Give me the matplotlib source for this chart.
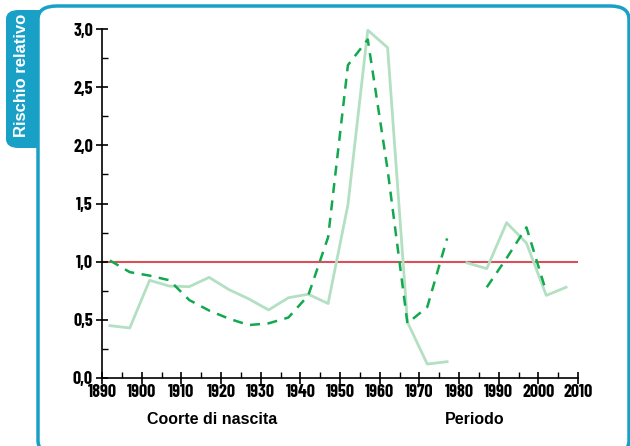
import numpy as np
import matplotlib.pyplot as plt
from matplotlib.patches import FancyBboxPatch
from matplotlib.ticker import MultipleLocator, FuncFormatter

# data
coorte_anni = [1892, 1897, 1902, 1907, 1912, 1917, 1922, 1927, 1932, 1937,
               1942, 1947, 1952, 1957, 1962, 1967, 1972, 1977]
coorte_rr = [0.45, 0.43, 0.84, 0.79, 0.785, 0.865, 0.76, 0.68, 0.585, 0.69,
             0.72, 0.64, 1.49, 2.99, 2.84, 0.48, 0.12, 0.14]
coorte_stima = [1.01, 0.91, 0.88, 0.84, 0.67, 0.58, 0.51, 0.455, 0.47, 0.52,
                0.71, 1.21, 2.69, 2.91, 1.79, 0.47, 0.61, 1.20]

periodo_anni = [1982, 1987, 1992, 1997, 2002, 2007]
periodo_rr = [0.99, 0.94, 1.335, 1.16, 0.71, 0.78]
periodo_stima_anni = [1987, 1992, 1997, 2002]
periodo_stima = [0.78, 1.03, 1.295, 0.74]

riferimento = 1.0

teal = '#18a0c6'
light_green = '#b3e0c2'
dark_green = '#12a84e'
red = '#d9505a'

tick_font = ['Barlow Condensed', 'DejaVu Sans']
label_font = ['Liberation Sans', 'DejaVu Sans']

fig = plt.figure(figsize=(6.3, 4.46), dpi=100)

# frame and tab
tab = FancyBboxPatch((6 / 630, 1 - 148 / 446), 44 / 630, 138 / 446,
                     boxstyle='round,pad=0,rounding_size=0.02',
                     transform=fig.transFigure, facecolor=teal, edgecolor='none',
                     zorder=-2)
fig.patches.append(tab)
frame = FancyBboxPatch((38 / 630, 1 - 454 / 446), 591 / 630, 448 / 446,
                       boxstyle='round,pad=0,rounding_size=0.03',
                       transform=fig.transFigure, facecolor='white',
                       edgecolor=teal, linewidth=2.5, zorder=-1)
fig.patches.append(frame)
fig.text(22 / 630, 1 - 75 / 446, 'Rischio relativo', rotation=90, color='white',
         fontsize=12, fontweight='bold', family=label_font,
         ha='center', va='center')

ax = fig.add_axes([102 / 630, 1 - 378 / 446, 476 / 630, 349 / 446])
ax.set_facecolor('none')

ax.plot([1890, 2010], [riferimento, riferimento], color=red, lw=1.5, zorder=1)
ax.plot(coorte_anni, coorte_rr, color=light_green, lw=2, zorder=2)
ax.plot(periodo_anni, periodo_rr, color=light_green, lw=2, zorder=2)
ax.plot(coorte_anni, coorte_stima, color=dark_green, lw=1.8, ls=(0, (4, 3)), zorder=3)
ax.plot(periodo_stima_anni, periodo_stima, color=dark_green, lw=1.8, ls=(0, (4, 3)), zorder=3)

ax.set_xlim(1890, 2010)
ax.set_ylim(0, 3.0)
ax.spines['top'].set_visible(False)
ax.spines['right'].set_visible(False)
ax.spines['left'].set_linewidth(1.2)
ax.spines['bottom'].set_linewidth(1.2)
ax.xaxis.set_major_locator(MultipleLocator(10))
ax.xaxis.set_minor_locator(MultipleLocator(5))
ax.yaxis.set_major_locator(MultipleLocator(0.5))
ax.yaxis.set_minor_locator(MultipleLocator(0.25))
ax.yaxis.set_major_formatter(FuncFormatter(lambda v, p: f'{v:.1f}'.replace('.', ',')))
ax.tick_params(which='major', direction='inout', length=9, width=1.2)
ax.tick_params(axis='x', which='major', pad=0)
ax.tick_params(axis='y', which='major', pad=2)
ax.tick_params(which='minor', direction='in', length=4, width=1)
for lab in ax.get_xticklabels() + ax.get_yticklabels():
    lab.set_family(tick_font)
    lab.set_fontweight(700)
    lab.set_fontsize(13)

fig.text(212 / 630, 1 - 419 / 446, 'Coorte di nascita', fontsize=11.5,
         fontweight='bold', family=label_font, ha='center', va='center')
fig.text(475 / 630, 1 - 419 / 446, 'Periodo', fontsize=11.5,
         fontweight='bold', family=label_font, ha='center', va='center')

fig.savefig('out.png', dpi=100)
